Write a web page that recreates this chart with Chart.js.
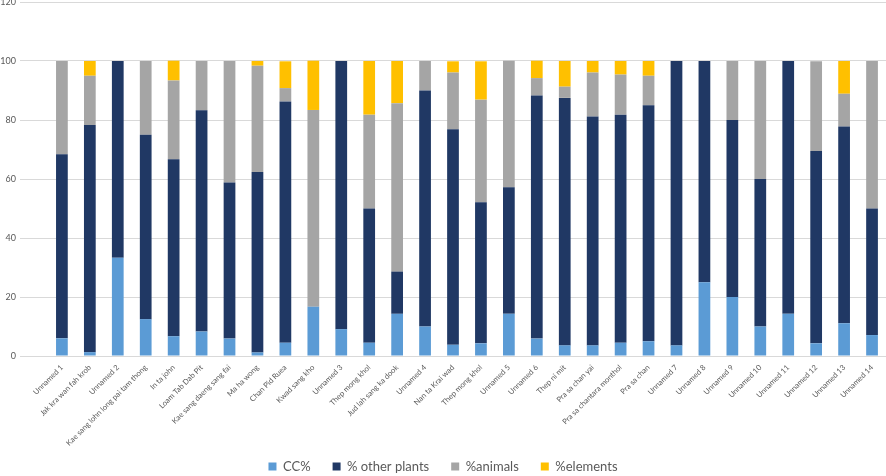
<!DOCTYPE html>
<html><head><meta charset="utf-8">
<script src="https://cdn.jsdelivr.net/npm/chart.js@4"></script>
<style>html,body{margin:0;padding:0;background:#fff}#wrap{width:886px;height:476px;position:relative}</style>
</head><body><div id="wrap"><canvas id="c"></canvas></div>
<script>
const categories = ["", "Unnamed 1", "Jak kra wan fah krob", "Unnamed 2", "Kae sang lohn long pai tam thong", "In ta john", "Loam Tab Dab Pit", "Kae sang daeng sang fai", "Ma ha wong", "Chan Pid Ruea", "Kwad sang kho", "Unnamed 3", "Thep mong khol", "Jud lah sang ka dook", "Unnamed 4", "Nan ta Krai wad", "Thep mong khol", "Unnamed 5", "Unnamed 6", "Thep ni mit", "Pra sa chan yai", "Pra sa chantara monthol", "Pra sa chan", "Unnamed 7", "Unnamed 8", "Unnamed 9", "Unnamed 10", "Unnamed 11", "Unnamed 12", "Unnamed 13", "Unnamed 14"];
const ccPct = [null, 6, 1.3, 33.3, 12.5, 6.7, 8.3, 5.9, 1.2, 4.5, 16.7, 9.1, 4.5, 14.3, 10, 3.8, 4.3, 14.3, 5.9, 3.6, 3.6, 4.5, 5, 3.6, 25, 20, 10, 14.3, 4.3, 11.1, 7.1];
const otherPlantsPct = [null, 62.4, 77, 66.7, 62.5, 60, 75, 52.9, 61.2, 81.8, 0, 90.9, 45.5, 14.3, 80, 73.1, 47.8, 42.9, 82.4, 83.9, 77.6, 77.3, 80, 96.4, 75, 60, 50, 85.7, 65.2, 66.7, 42.9];
const animalsPct = [null, 31.6, 16.7, 0, 25, 26.7, 16.7, 41.2, 36, 4.5, 66.7, 0, 31.8, 57.1, 10, 19.2, 34.8, 42.9, 5.9, 3.8, 14.9, 13.6, 10, 0, 0, 20, 40, 0, 30.4, 11.1, 50];
const elementsPct = [null, 0, 5, 0, 0, 6.7, 0, 0, 1.6, 9.1, 16.7, 0, 18.2, 14.3, 0, 3.8, 13, 0, 5.9, 8.7, 3.9, 4.6, 5, 0, 0, 0, 0, 0, 0, 11.1, 0];
const seriesNames = ["CC%", "% other plants", "%animals", "%elements"];
const yTicks = [0, 20, 40, 60, 80, 100, 120];

const colors = ["#5b9bd5", "#203864", "#a5a5a5", "#ffc000"];
const values = [ccPct, otherPlantsPct, animalsPct, elementsPct];
const FONT = "Lato, 'Open Sans', sans-serif";
const unclipLabels = {
  id: 'unclipLabels',
  afterLayout(chart) { chart.scales.x.bottom += 24; }
};
new Chart(document.getElementById('c'), {
  type: 'bar',
  data: {
    labels: categories,
    datasets: seriesNames.map((n, i) => ({
      label: n, data: values[i], backgroundColor: colors[i],
      borderWidth: 0, categoryPercentage: 1, barPercentage: 0.42
    }))
  },
  plugins: [unclipLabels],
  options: {
    responsive: true, maintainAspectRatio: false, animation: false,
    layout: { padding: { top: 2, right: 0, left: 0, bottom: -7 } },
    plugins: {
      legend: {
        position: 'bottom',
        labels: { boxWidth: 8, boxHeight: 8, color: '#595959', font: { family: FONT, size: 13 }, padding: 22 }
      },
      tooltip: { enabled: false }
    },
    scales: {
      x: {
        stacked: true,
        grid: { display: false, drawTicks: false },
        border: { display: false },
        afterFit: (ax) => { ax.height = 82; },
        ticks: { autoSkip: false, maxRotation: 45, minRotation: 45, color: '#595959', font: { family: FONT, size: 7.6 }, padding: 7 }
      },
      y: {
        stacked: true, min: 0, max: 120,
        afterBuildTicks: (ax) => { ax.ticks = yTicks.map(v => ({ value: v })); },
        afterFit: (ax) => { ax.width = 20; ax.paddingTop = 0; },
        grid: { color: '#d9d9d9', drawTicks: false },
        border: { display: false },
        ticks: { color: '#595959', font: { family: FONT, size: 9 }, padding: 4 }
      }
    }
  }
});
</script></body></html>
